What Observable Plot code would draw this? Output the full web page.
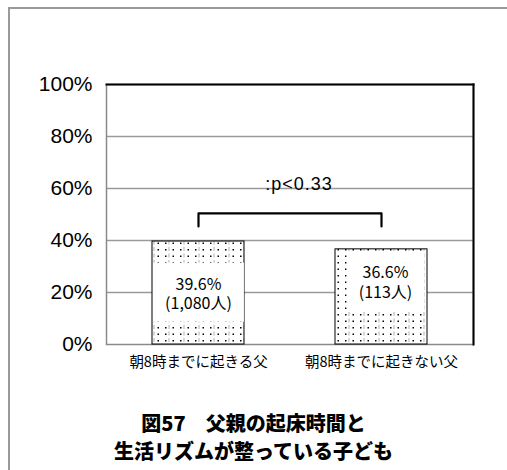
<!DOCTYPE html>
<html>
<head>
<meta charset="utf-8">
<script src="https://cdn.jsdelivr.net/npm/d3@7"></script>
<script src="https://cdn.jsdelivr.net/npm/@observablehq/plot@0.6"></script>
<style>
  html, body { margin: 0; padding: 0; background: #fff; }
  #wrap { position: relative; width: 507px; height: 470px; overflow: hidden; background: #fff; }
  #outer { position: absolute; left: 8px; top: 7px; width: 520px; height: 480px; z-index: 5;
           border-top: 2px solid #9a9a9a; border-left: 2px solid #9a9a9a; pointer-events: none; }
  #chart { position: absolute; left: 0; top: 0; z-index: 1; }
  #title { position: absolute; left: 0; width: 507px; top: 409px; text-align: center; z-index: 2;
           font-family: "Noto Sans CJK JP", sans-serif; font-weight: 900; font-size: 20px;
           line-height: 28px; color: #000; }
</style>
</head>
<body>
<div id="wrap">
  <div id="chart"></div>
  <div id="title">図57　父親の起床時間と<br>生活リズムが整っている子ども</div>
  <div id="outer"></div>
</div>
<script>
const categories = ["朝8時までに起きる父", "朝8時までに起きない父"];
const values = [39.6, 36.6];
const counts = ["1,080人", "113人"];
const yTicks = [0, 20, 40, 60, 80, 100];
const gridValues = [20, 40, 60, 80];
const pLabel = ":p<0.33";
const bracketTop = 50.4;
const bracketFoot = 45.4;

const data = categories.map((c, i) => ({cat: c, value: values[i], count: counts[i]}));
const bracket = [
  {cat: categories[0], y: bracketFoot},
  {cat: categories[0], y: bracketTop},
  {cat: categories[1], y: bracketTop},
  {cat: categories[1], y: bracketFoot}
];

const jp = "'Noto Sans CJK JP', sans-serif";
const labelText = d => `${d.value.toFixed(1)}%\n(${d.count})`;

const chart = Plot.plot({
  width: 507,
  height: 380,
  marginLeft: 106,
  marginRight: 34,
  marginTop: 84,
  marginBottom: 36,
  style: {background: "transparent", color: "#000"},
  x: {domain: categories, paddingInner: 0.5, paddingOuter: 0.25, label: null},
  y: {domain: [0, 100], label: null},
  marks: [
    Plot.ruleY(gridValues, {stroke: "#9a9a9a", strokeWidth: 1.5}),
    Plot.frame({stroke: "#8a8a8a", strokeWidth: 1.5}),
    Plot.frame({anchor: "top", stroke: "#000", strokeWidth: 2}),
    Plot.frame({anchor: "right", stroke: "#000", strokeWidth: 2}),
    Plot.axisY({ticks: yTicks, tickFormat: d => d + "%", tickSize: 0, tickPadding: 14,
                fontSize: 21, fontFamily: "'Liberation Sans', Arial, sans-serif", label: null}),
    Plot.axisX({tickSize: 0, tickPadding: 12, fontSize: 14.5, fontFamily: jp, label: null}),
    Plot.barY(data, {x: "cat", y: "value", fill: "url(#dotpat)", stroke: "#000", strokeWidth: 1}),
    Plot.text(data, {filter: (d, i) => i === 0, x: "cat", y: d => d.value / 2, text: labelText,
                     fontSize: 16, lineHeight: 1.2, fontFamily: jp, fill: "#000"}),
    Plot.text(data, {filter: (d, i) => i === 1, x: "cat", y: d => d.value / 2, text: labelText,
                     dx: 4, dy: -15,
                     fontSize: 16, lineHeight: 1.2, fontFamily: jp, fill: "#000"}),
    Plot.line(bracket, {x: "cat", y: "y", stroke: "#000", strokeWidth: 2.2}),
    Plot.text([{t: pLabel, y: 60}], {y: "y", text: "t", lineAnchor: "bottom", dx: 9, dy: 1,
                                     fontSize: 18, fontFamily: "'Liberation Sans', Arial, sans-serif"})
  ]
});

document.getElementById("chart").appendChild(chart);

const ns = "http://www.w3.org/2000/svg";
const svg = chart.tagName.toLowerCase() === "svg" ? chart : chart.querySelector("svg");
const defs = document.createElementNS(ns, "defs");
defs.innerHTML = `
  <pattern id="dotpat" patternUnits="userSpaceOnUse" width="15" height="13">
    <rect width="15" height="13" fill="#fff"/>
    <line x1="4" y1="0" x2="4" y2="13" stroke="#b0b0b0" stroke-width="1" stroke-dasharray="4 2.5"/>
    <rect x="0" y="2" width="1.5" height="1.5" fill="#000"/>
    <rect x="7.5" y="2" width="1.5" height="1.5" fill="#000"/>
    <rect x="0" y="8.5" width="1.5" height="1.5" fill="#000"/>
    <rect x="7.5" y="8.5" width="1.5" height="1.5" fill="#000"/>
  </pattern>`;
svg.insertBefore(defs, svg.firstChild);

// white boxes behind the bar labels
svg.querySelectorAll("text").forEach(t => {
  if (!/人/.test(t.textContent) || t.closest("g[aria-label='x-axis tick label']")) return;
  const b = t.getBBox();
  const r = document.createElementNS(ns, "rect");
  r.setAttribute("x", b.x - 12);
  r.setAttribute("y", b.y - 8);
  r.setAttribute("width", b.width + 24);
  r.setAttribute("height", b.height + 16);
  r.setAttribute("fill", "#fff");
  const tr = t.getAttribute("transform");
  if (tr) r.setAttribute("transform", tr);
  t.parentNode.insertBefore(r, t);
});

// wider spacing for significance label
svg.querySelectorAll("text").forEach(t => {
  if (t.textContent === pLabel) t.style.letterSpacing = "1px";
});
</script>
</body>
</html>
